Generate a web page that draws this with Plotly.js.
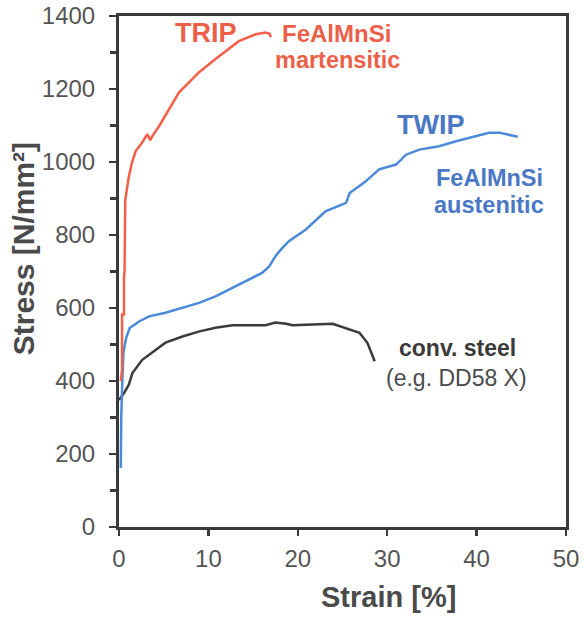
<!DOCTYPE html>
<html><head><meta charset="utf-8">
<script src="https://cdn.plot.ly/plotly-3.0.1.min.js"></script>
<style>html,body{margin:0;padding:0;background:#fff}#chart{width:584px;height:618px}</style>
</head><body><div id="chart"></div>
<script>
// TRIP FeAlMnSi martensitic
const tripStrain = [0.2, 0.34, 0.34, 0.56, 0.56, 0.62, 0.7, 0.8, 1.1, 1.46, 1.87, 2.5, 3.17, 3.5, 3.73, 4.48, 5.5, 6.72, 8.0, 8.96, 10.8, 12.0, 13.4, 15.3, 16.4, 16.8, 17.0];
const tripStress = [400, 430, 582, 582, 685, 700, 896, 915, 960, 999, 1030, 1050, 1076, 1060, 1071, 1098, 1140, 1191, 1222, 1246, 1282, 1305, 1331, 1350, 1355, 1352, 1342];
// TWIP FeAlMnSi austenitic
const twipStrain = [0.2, 0.25, 0.4, 0.5, 0.8, 1.2, 2.24, 3.36, 5.2, 7.1, 8.96, 10.8, 12.7, 14.6, 16.0, 16.8, 17.5, 18.1, 19.0, 20.9, 23.1, 25.4, 25.8, 27.5, 29.1, 31.0, 32.1, 33.6, 35.8, 37.7, 39.6, 41.4, 42.6, 43.5, 44.6];
const twipStress = [162, 300, 422, 480, 518, 545, 563, 577, 587, 601, 614, 632, 655, 677, 696, 714, 742, 760, 783, 815, 865, 888, 915, 945, 980, 993, 1020, 1034, 1043, 1057, 1069, 1080, 1080, 1075, 1069];
// conventional steel (e.g. DD58 X)
const convStrain = [0.0, 0.56, 1.1, 1.5, 2.6, 4.1, 5.2, 7.1, 9.0, 10.8, 12.7, 16.4, 17.5, 18.7, 19.4, 23.9, 25.4, 26.9, 27.8, 28.6];
const convStress = [348, 367, 390, 422, 458, 486, 505, 522, 536, 546, 553, 553, 560, 557, 553, 557, 545, 532, 504, 454];

const xTicks = [0, 10, 20, 30, 40, 50];
const yTicks = [0, 200, 400, 600, 800, 1000, 1200, 1400];

const FONT = "'Liberation Sans', Arial, sans-serif";
const traces = [
  {x: convStrain, y: convStress, mode: 'lines', line: {color: '#3a3a3a', width: 2.5}, hoverinfo: 'skip'},
  {x: twipStrain, y: twipStress, mode: 'lines', line: {color: '#4a8ad8', width: 2.5}, hoverinfo: 'skip'},
  {x: tripStrain, y: tripStress, mode: 'lines', line: {color: '#f2604a', width: 2.5}, hoverinfo: 'skip'}
];

const ann = (x, y, text, color, size, bold) => ({
  x: x, y: y, xref: 'x', yref: 'y', text: bold ? '<b>' + text + '</b>' : text,
  showarrow: false, font: {family: FONT, size: size, color: color}, xanchor: 'center', yanchor: 'middle'
});

const layout = {
  width: 584, height: 618,
  margin: {l: 119, r: 18, t: 16, b: 91},
  paper_bgcolor: '#fff', plot_bgcolor: '#fff',
  showlegend: false,
  font: {family: FONT, color: '#555'},
  xaxis: {
    range: [0, 50], tickvals: xTicks, ticktext: xTicks.map(String),
    showgrid: false, zeroline: false,
    showline: true, linecolor: '#3a3a3a', linewidth: 3, mirror: true,
    ticks: 'outside', ticklen: 6, tickwidth: 2.5, tickcolor: '#3a3a3a',
    ticklabelstandoff: 2,
    tickfont: {family: FONT, size: 24, color: '#555'}
  },
  yaxis: {
    range: [0, 1400], tickvals: yTicks, ticktext: yTicks.map(String),
    showgrid: false, zeroline: false,
    showline: true, linecolor: '#3a3a3a', linewidth: 3, mirror: true,
    ticks: 'outside', ticklen: 7, tickwidth: 2.5, tickcolor: '#3a3a3a',
    minor: {dtick: 100, ticks: 'outside', ticklen: 6, tickwidth: 2.5, tickcolor: '#3a3a3a', showgrid: false},
    ticklabelstandoff: 9,
    tickfont: {family: FONT, size: 24, color: '#555'}
  },
  annotations: [
    {xref: 'paper', yref: 'paper', x: 0.603, y: -0.137, text: '<b>Strain [%]</b>', showarrow: false,
     font: {family: FONT, size: 29, color: '#4a4a4a'}, xanchor: 'center', yanchor: 'middle'},
    {xref: 'paper', yref: 'paper', x: -0.213, y: 0.545, text: '<b>Stress [N/mm²]</b>', showarrow: false, textangle: -90,
     font: {family: FONT, size: 30, color: '#4a4a4a'}, xanchor: 'center', yanchor: 'middle'},
    ann(9.7, 1353, 'TRIP', '#ec5f48', 27, true),
    ann(24.3, 1353, 'FeAlMnSi', '#ec5f48', 24, true),
    ann(24.4, 1279, 'martensitic', '#ec5f48', 23.5, true),
    ann(34.9, 1101, 'TWIP', '#4a78c4', 27, true),
    ann(41.4, 956, 'FeAlMnSi', '#4a78c4', 23.5, true),
    ann(41.4, 882, 'austenitic', '#4a78c4', 23.5, true),
    ann(37.9, 490, 'conv. steel', '#3a3a3a', 23, true),
    ann(37.8, 408, '(e.g. DD58 X)', '#4a4a4a', 23, false)
  ]
};

Plotly.newPlot('chart', traces, layout, {staticPlot: true, displayModeBar: false});
</script>
</body></html>
